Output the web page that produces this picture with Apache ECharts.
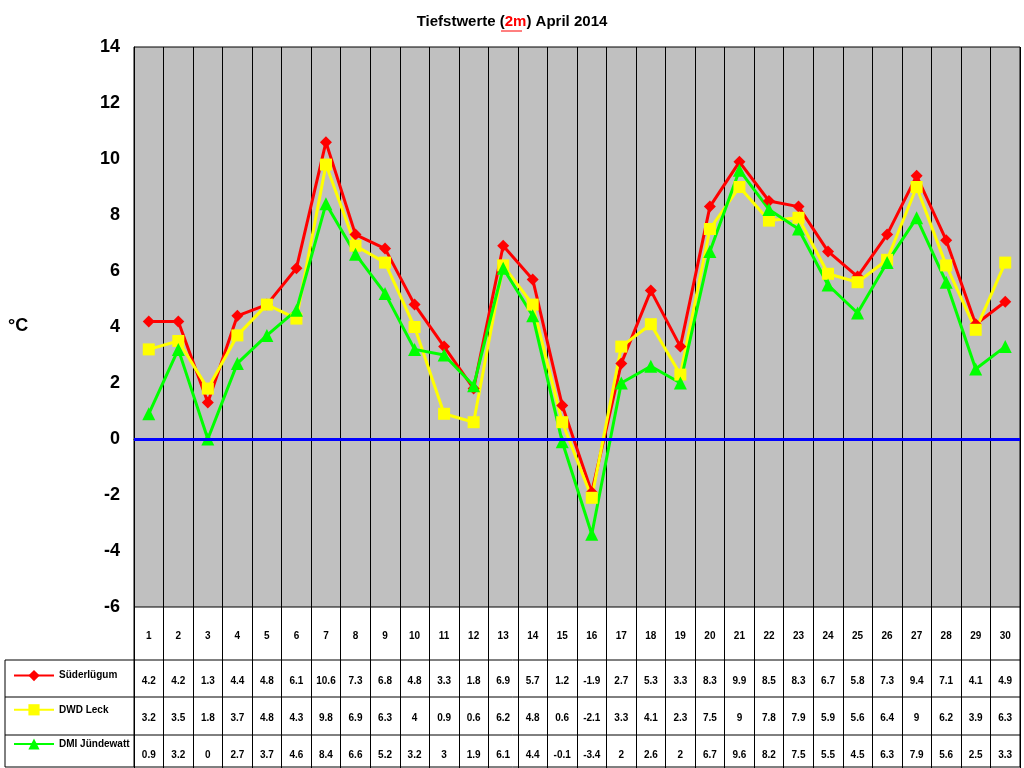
<!DOCTYPE html>
<html>
<head>
<meta charset="utf-8">
<script src="https://cdn.jsdelivr.net/npm/echarts@6/dist/echarts.min.js"></script>
<style>html,body{margin:0;padding:0;background:#fff}#chart{width:1024px;height:768px}</style>
</head>
<body>
<div id="chart"></div>
<script>
var days = ['1','2','3','4','5','6','7','8','9','10','11','12','13','14','15','16','17','18','19','20','21','22','23','24','25','26','27','28','29','30'];
var suederluegum = [4.2,4.2,1.3,4.4,4.8,6.1,10.6,7.3,6.8,4.8,3.3,1.8,6.9,5.7,1.2,-1.9,2.7,5.3,3.3,8.3,9.9,8.5,8.3,6.7,5.8,7.3,9.4,7.1,4.1,4.9];
var dwdLeck = [3.2,3.5,1.8,3.7,4.8,4.3,9.8,6.9,6.3,4,0.9,0.6,6.2,4.8,0.6,-2.1,3.3,4.1,2.3,7.5,9,7.8,7.9,5.9,5.6,6.4,9,6.2,3.9,6.3];
var dmiJuendewatt = [0.9,3.2,0,2.7,3.7,4.6,8.4,6.6,5.2,3.2,3,1.9,6.1,4.4,-0.1,-3.4,2,2.6,2,6.7,9.6,8.2,7.5,5.5,4.5,6.3,7.9,5.6,2.5,3.3];
var seriesNames = ['Süderlügum','DWD Leck','DMI Jündewatt'];

var myChart = echarts.init(document.getElementById('chart'));

// table rows are extra x axes below the plot
function tableAxis (values, offset) {
    return {
        type:'category', gridIndex:0, position:'bottom', offset:offset,
        data:values.map(String),
        axisLine:{show:false}, axisTick:{show:false}, splitLine:{show:false},
        axisLabel:{interval:0, fontSize:10, fontWeight:'bold', color:'#000', fontFamily:'Arial'}
    };
}

var hline = function (y) {
    return {type:'line', shape:{x1:5, y1:y, x2:1020, y2:y}, style:{stroke:'#000', lineWidth:1}};
};

option = {
    animation:false,
    backgroundColor:'#fff',
    title:{
        text:'{a|Tiefstwerte (}{b|2m}{a|) April 2014}',
        left:'center', top:9,
        textStyle:{rich:{
            a:{fontSize:15, fontWeight:'bold', color:'#000', fontFamily:'Arial'},
            b:{fontSize:15, fontWeight:'bold', color:'#ff0000', fontFamily:'Arial'}
        }}
    },
    grid:{left:134, right:4, top:47, bottom:161, show:true, backgroundColor:'#c0c0c0', borderColor:'#000', borderWidth:1},
    legend:{
        data:seriesNames, orient:'vertical', left:8, top:665, itemGap:23,
        itemWidth:40, itemHeight:14,
        textStyle:{fontSize:10, fontWeight:'bold', color:'#000', fontFamily:'Arial'}
    },
    xAxis:[
        {
            type:'category', data:days, boundaryGap:true,
            axisLine:{lineStyle:{color:'#000'}},
            axisTick:{show:false},
            splitLine:{show:true, interval:0, lineStyle:{color:'#000', width:1}},
            axisLabel:{interval:0, margin:24, fontSize:10, fontWeight:'bold', color:'#000', fontFamily:'Arial'}
        },
        tableAxis(suederluegum, 61),
        tableAxis(dwdLeck, 98),
        tableAxis(dmiJuendewatt, 135),
        {
            // vertical table lines
            type:'category', data:days, boundaryGap:true, position:'bottom', offset:0,
            axisLine:{show:false},
            axisTick:{show:true, interval:0, inside:false, length:161, lineStyle:{color:'#000', width:1}},
            axisLabel:{show:false}, splitLine:{show:false}
        }
    ],
    yAxis:{
        type:'value', min:-6, max:14, interval:2,
        axisLine:{show:true, lineStyle:{color:'#000'}},
        axisTick:{show:false},
        splitLine:{show:false},
        axisLabel:{fontSize:18, fontWeight:'bold', color:'#000', fontFamily:'Arial', margin:14}
    },
    graphic:[
        {type:'text', left:8, top:317, style:{text:'°C', fontSize:18, fontWeight:'bold', fill:'#000', fontFamily:'Arial'}},
        {type:'line', shape:{x1:501, y1:31, x2:522, y2:31}, style:{stroke:'#ff0000', lineWidth:1}},
        hline(660), hline(697), hline(735), hline(767),
        {type:'line', shape:{x1:5, y1:660, x2:5, y2:767}, style:{stroke:'#000', lineWidth:1}},
        {type:'line', shape:{x1:134, y1:607, x2:134, y2:767}, style:{stroke:'#000', lineWidth:1}},
        {type:'line', shape:{x1:1020, y1:607, x2:1020, y2:767}, style:{stroke:'#000', lineWidth:1}}
    ],
    series:[
        {
            name:'Süderlügum', type:'line', data:suederluegum,
            symbol:'diamond', symbolSize:12,
            lineStyle:{color:'#ff0000', width:3}, itemStyle:{color:'#ff0000'},
            markLine:{
                silent:true, symbol:'none', label:{show:false},
                lineStyle:{color:'#0000ff', width:3, type:'solid'},
                data:[{yAxis:0}]
            }
        },
        {
            name:'DWD Leck', type:'line', data:dwdLeck,
            symbol:'rect', symbolSize:12,
            lineStyle:{color:'#ffff00', width:3}, itemStyle:{color:'#ffff00'}
        },
        {
            name:'DMI Jündewatt', type:'line', data:dmiJuendewatt,
            symbol:'triangle', symbolSize:13,
            lineStyle:{color:'#00ff00', width:3}, itemStyle:{color:'#00ff00'}
        }
    ]
};

myChart.setOption(option);
</script>
</body>
</html>
